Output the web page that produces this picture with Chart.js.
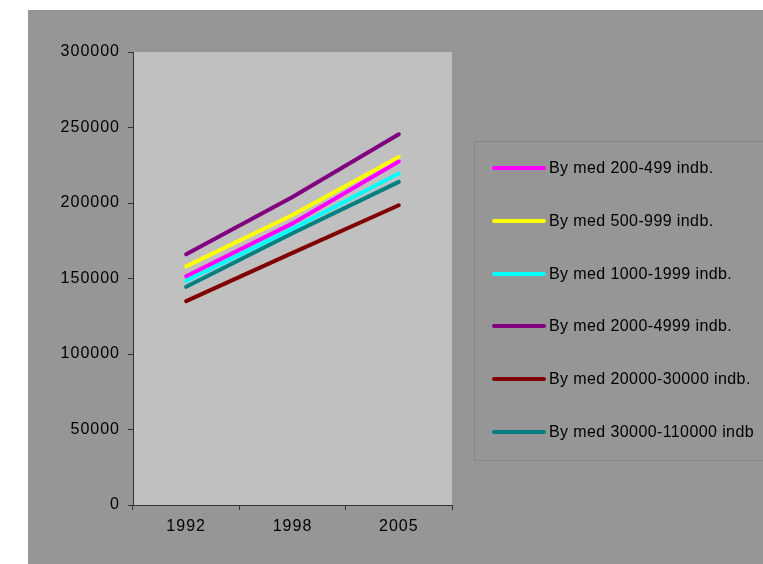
<!DOCTYPE html>
<html>
<head>
<meta charset="utf-8">
<script src="https://cdn.jsdelivr.net/npm/chart.js@4"></script>
<style>
  body { margin:0; background:#fff; font-family:"Liberation Sans", Arial, sans-serif; }
  #wrap { position:absolute; left:28px; top:10px; width:735px; height:554px; background:#969696; overflow:hidden; }
  #c { position:absolute; left:0; top:0; }
  #legend { position:absolute; left:446px; top:131px; width:310px; height:320px; border:1px solid #858585; box-sizing:border-box; }
  .row { position:absolute; left:17px; height:20px; display:flex; align-items:center; }
  .sw { width:54px; height:4px; border-radius:2px; margin-right:3px; }
  .lbl { font-size:16px; color:#000; letter-spacing:0.4px; white-space:nowrap; }
</style>
</head>
<body>
<div id="wrap">
  <canvas id="c" width="450" height="554"></canvas>
  <div id="legend"></div>
</div>
<script>
// ─── DATA ─────────────────────────────────────────────────────────────────────
const YEARS = ['1992', '1998', '2005'];
const SERIES_NAMES = ['By med 200-499 indb.', 'By med 500-999 indb.', 'By med 1000-1999 indb.',
  'By med 2000-4999 indb.', 'By med 20000-30000 indb.', 'By med 30000-110000 indb'];
const BY_200_499 = [151500, 186500, 227500];
const BY_500_999 = [158000, 192000, 230500];
const BY_1000_1999 = [148500, 183000, 219500];
const BY_2000_4999 = [166000, 204000, 245500];
const BY_20000_30000 = [135000, 167000, 198500];
const BY_30000_110000 = [144500, 180000, 214000];
const COLORS = ['#FF00FF', '#FFFF00', '#00FFFF', '#800080', '#800000', '#008080'];
const Y_TICKS = [0, 50000, 100000, 150000, 200000, 250000, 300000];

const VALUES = [BY_200_499, BY_500_999, BY_1000_1999, BY_2000_4999, BY_20000_30000, BY_30000_110000];

// ─── LEGEND ───────────────────────────────────────────────────────────────────
const leg = document.getElementById('legend');
SERIES_NAMES.forEach((n, i) => {
  const r = document.createElement('div');
  r.className = 'row';
  r.style.top = (26 + i * 52.8 - 10) + 'px';
  r.innerHTML = `<div class="sw" style="background:${COLORS[i]}"></div><span class="lbl">${n}</span>`;
  leg.appendChild(r);
});

// ─── CHART ────────────────────────────────────────────────────────────────────
const plotBg = {
  id: 'plotBg',
  beforeDraw(chart) {
    const { ctx, chartArea: a } = chart;
    ctx.letterSpacing = '1px';
    ctx.save();
    ctx.fillStyle = '#C0C0C0';
    ctx.fillRect(a.left, a.top, a.right - a.left, a.bottom - a.top);
    ctx.restore();
  }
};

const tickFont = { family: '"Liberation Sans", Arial, sans-serif', size: 16 };

new Chart(document.getElementById('c'), {
  type: 'line',
  data: {
    labels: YEARS,
    datasets: VALUES.map((v, i) => ({
      label: SERIES_NAMES[i], data: v, borderColor: COLORS[i], backgroundColor: COLORS[i],
      borderWidth: 4, borderCapStyle: 'round', pointRadius: 0, tension: 0, fill: false
    }))
  },
  options: {
    responsive: false,
    animation: false,
    layout: { padding: { left: 0, top: 42, right: 26, bottom: 0 } },
    plugins: { legend: { display: false }, tooltip: { enabled: false } },
    scales: {
      x: {
        offset: true,
        grid: { offset: true, drawOnChartArea: false, tickLength: 5, tickColor: '#333' },
        border: { color: '#333', width: 1 },
        ticks: { color: '#000', font: tickFont, padding: 7, maxRotation: 0 },
        afterFit: s => { s.height = 59; }
      },
      y: {
        min: 0, max: 300000,
        afterBuildTicks: s => { s.ticks = Y_TICKS.map(v => ({ value: v })); },
        grid: { drawOnChartArea: false, tickLength: 5, tickColor: '#333' },
        border: { color: '#333', width: 1 },
        ticks: { color: '#000', font: tickFont, padding: 8, callback: v => String(v) },
        afterFit: s => { s.width = 105; }
      }
    }
  },
  plugins: [plotBg]
});
</script>
</body>
</html>
